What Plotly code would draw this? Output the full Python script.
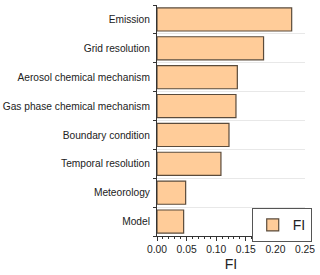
import plotly.graph_objects as go

categories = ["Emission", "Grid resolution", "Aerosol chemical mechanism",
              "Gas phase chemical mechanism", "Boundary condition",
              "Temporal resolution", "Meteorology", "Model"]
fi_values = [0.2275, 0.180, 0.1357, 0.1334, 0.1216, 0.108, 0.0484, 0.045]
x_ticks = [0.00, 0.05, 0.10, 0.15, 0.20, 0.25]
x_tick_labels = ["0.00", "0.05", "0.10", "0.15", "0.20", "0.25"]

font_family = "Liberation Sans, Arial, sans-serif"

fig = go.Figure()
fig.add_trace(go.Bar(
    x=fi_values, y=categories, orientation="h", name="FI",
    marker=dict(color="#FFCC99", line=dict(color="#5b4b3b", width=1.2)),
    width=0.8,
))

fig.update_layout(
    width=320, height=275,
    margin=dict(l=157, r=15, t=5, b=39),
    paper_bgcolor="white", plot_bgcolor="white",
    font=dict(family=font_family, size=10.2, color="#222222"),
    showlegend=True,
    legend=dict(x=0.64, y=0.12, xanchor="left", yanchor="top",
                bordercolor="#555555", borderwidth=1, bgcolor="white",
                font=dict(size=14, color="#222222"),
                itemwidth=30, tracegroupgap=0),
    bargap=0.2,
)
fig.update_xaxes(
    range=[0, 0.25], tickvals=x_ticks, ticktext=x_tick_labels,
    showline=True, linecolor="#333333", linewidth=1,
    ticks="outside", ticklen=4, tickcolor="#333333",
    minor=dict(dtick=0.01, ticks="outside", ticklen=2, tickcolor="#333333"),
    showgrid=False, zeroline=False, automargin=False,
    title=dict(text="FI", font=dict(size=14), standoff=4),
    tickfont=dict(size=10.3),
)
fig.update_yaxes(
    categoryorder="array", categoryarray=categories[::-1],
    tickson="boundaries", ticks="outside", ticklen=3, tickcolor="#333333",
    showline=True, linecolor="#333333", linewidth=1,
    showgrid=True, gridcolor="#e8e8e8", gridwidth=1, automargin=False,
    tickfont=dict(size=10.2), ticklabelstandoff=4,
)

fig.write_html("out.html", config={"displayModeBar": False},
               post_script="document.body.style.margin='0px';document.body.style.overflow='hidden';")
